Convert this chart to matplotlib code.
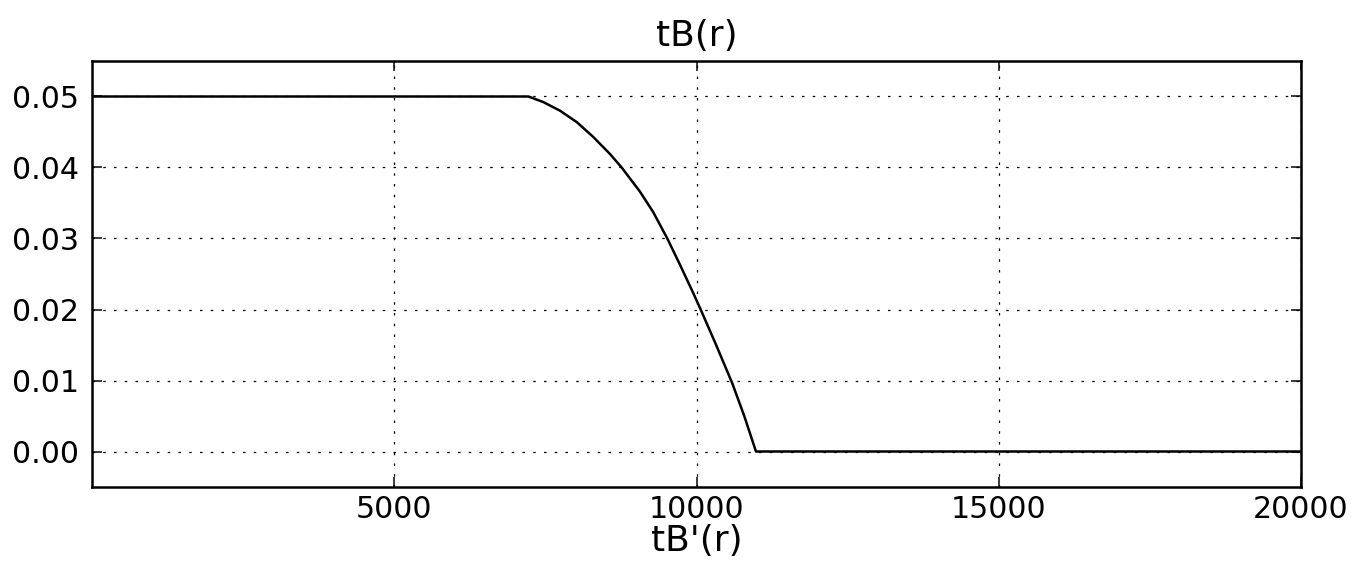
import matplotlib
matplotlib.use("Agg")
import matplotlib.pyplot as plt

# valores
r = [0, 7220, 7470, 7742, 8018, 8293, 8569, 8762, 9065, 9285, 9517, 9727, 9947,
     10069, 10330, 10592, 10790, 10984, 20000]
tb = [0.05, 0.05, 0.0492, 0.0480, 0.0464, 0.0443, 0.0419, 0.0400, 0.0366, 0.0337,
      0.0300, 0.0263, 0.0223, 0.0200, 0.0149, 0.0096, 0.0050, 0.0, 0.0]
xticks = [5000, 10000, 15000, 20000]
yticks = [0.00, 0.01, 0.02, 0.03, 0.04, 0.05]

plt.rcParams["lines.scale_dashes"] = False

DPI = 180
fig = plt.figure(figsize=(1358 / DPI, 565 / DPI), dpi=DPI)
ax = fig.add_axes([92 / 1358, 1 - 487 / 565, (1301 - 92) / 1358, (487 - 61) / 565])

ax.plot(r, tb, color="black", lw=1.0)
ax.set_xlim(0, 20000)
ax.set_ylim(-0.005, 0.055)
ax.set_xticks(xticks)
ax.set_yticks(yticks)
ax.set_yticklabels([f"{v:.2f}" for v in yticks])
ax.tick_params(direction="in", top=True, right=True, length=4, width=0.6, labelsize=12)
ax.tick_params(axis="x", pad=3.2)
ax.tick_params(axis="y", pad=5)
ax.grid(True, color="black", linestyle=(0, (1, 3.3)), linewidth=0.5)
for s in ax.spines.values():
    s.set_linewidth(1.0)

ax.set_title("tB(r)", fontsize=14.4, pad=6)
ax.set_xlabel("tB'(r)", fontsize=14.4, labelpad=0)

fig.savefig("out.png", dpi=DPI, facecolor="white")
